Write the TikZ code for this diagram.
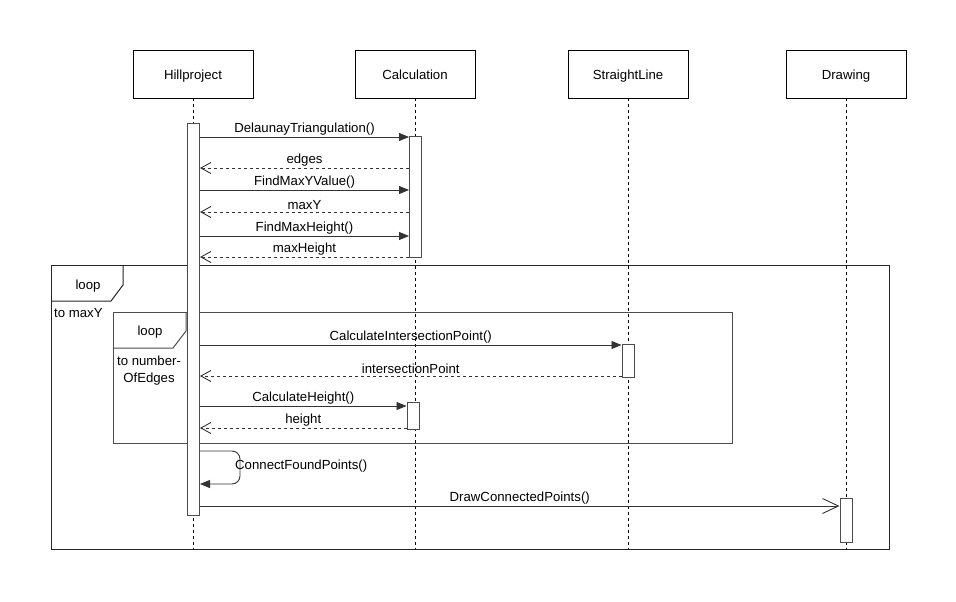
\documentclass[tikz,border=0pt]{standalone}
\usepackage{fontspec}
\setmainfont{Liberation Sans}
\usetikzlibrary{arrows.meta}
\begin{document}
\begin{tikzpicture}[x=1pt,y=-1pt,
  font=\fontsize{13.2}{15.5}\selectfont,
  header/.style={draw=black, line width=0.9pt, fill=white, minimum width=120pt, minimum height=48pt, inner sep=0pt, text height=10.8pt, text depth=0pt},
  lifeline/.style={line width=0.9pt, dash pattern=on 3pt off 3pt},
  act/.style={draw=black!70, line width=1pt, fill=white, minimum width=12pt, inner sep=0pt, anchor=north},
  call/.style={line width=0.9pt, draw=black!80, -{Triangle[length=10pt,width=8pt]}},
  reply/.style={line width=0.9pt, draw=black!80, dash pattern=on 3pt off 3pt, -{Straight Barb[length=10pt,width=11pt]}},
  async/.style={line width=0.9pt, draw=black!80, -{Straight Barb[length=16pt,width=15pt]}},
  frame/.style={line width=1pt},
  lbl/.style={above, inner sep=1.5pt}
]
% page area
\useasboundingbox (0,0) rectangle (956,602);

% participants
\node[header] (hp) at (193,74) {Hillproject};
\node[header] (calc) at (415,74) {Calculation};
\node[header] (sl) at (628,74) {StraightLine};
\node[header] (dr) at (846,74) {Drawing};

% lifelines
\coordinate (hpend) at (193,549);
\coordinate (calcend) at (415,549);
\coordinate (slend) at (628,549);
\coordinate (drend) at (846,549);
\draw[lifeline] (hp.south) -- (hpend);
\draw[lifeline] (calc.south) -- (calcend);
\draw[lifeline] (sl.south) -- (slend);
\draw[lifeline] (dr.south) -- (drend);

% outer loop fragment
\draw[frame, draw=black!85] (51,265) rectangle (889,549);
\draw[frame, draw=black!85] (51,301) -- (111,301) -- (123,285) -- (123,265);
\node (loopA) at (88,286) {loop};
\node[anchor=west, inner sep=0pt] (guardA) at (54,313) {to maxY};

% inner loop fragment
\draw[frame, draw=black!70] (113,312) rectangle (732,443);
\draw[frame, draw=black!70] (113,348) -- (173,348) -- (186,331) -- (186,312);
\node (loopB) at (150,332) {loop};
\node[align=center, inner sep=0pt, font=\fontsize{13.2}{17}\selectfont] (guardB) at (149,371) {to number-\\OfEdges};

% activations
\node[act, minimum height=392pt] (a1) at (193.5,123) {};
\node[act, minimum height=121pt] (c1) at (415.5,136) {};
\node[act, minimum height=33pt] (s1) at (628,344) {};
\node[act, minimum height=27pt] (c2) at (413,402) {};
\node[act, minimum height=44pt] (d1) at (846,498) {};

% first block of calls
\draw[call] (a1.east |- 0,137) -- node[lbl] {DelaunayTriangulation()} (c1.west |- 0,137);
\draw[reply] (c1.west |- 0,168) -- node[lbl] {edges} (a1.east |- 0,168);
\draw[call] (a1.east |- 0,190) -- node[lbl] {FindMaxYValue()} (c1.west |- 0,190);
\draw[reply] (c1.west |- 0,212) -- node[lbl] {maxY} (a1.east |- 0,212);
\draw[call] (a1.east |- 0,236) -- node[lbl] {FindMaxHeight()} (c1.west |- 0,236);
\draw[reply] (c1.west |- 0,257) -- node[lbl] {maxHeight} (a1.east |- 0,257);

% inner loop calls
\draw[call] (a1.east |- 0,345) -- node[lbl] {CalculateIntersectionPoint()} (s1.west |- 0,345);
\draw[reply] (s1.west |- 0,376) -- node[lbl] {intersectionPoint} (a1.east |- 0,376);
\draw[call] (a1.east |- 0,406) -- node[lbl] {CalculateHeight()} (c2.west |- 0,406);
\draw[reply] (c2.west |- 0,428) -- node[lbl] {height} (a1.east |- 0,428);

% self call
\coordinate (selfA) at (240,451);
\coordinate (selfB) at (240,484);
\draw[call, rounded corners=8pt] (a1.east |- 0,451) -- (selfA) -- (selfB) -- (a1.east |- 0,484);
\node[anchor=west, inner sep=0pt] (selflbl) at (235,466) {ConnectFoundPoints()};

% asynchronous drawing call
\draw[async] (a1.east |- 0,506) -- node[lbl] {DrawConnectedPoints()} (d1.west |- 0,506);
\end{tikzpicture}
\end{document}
